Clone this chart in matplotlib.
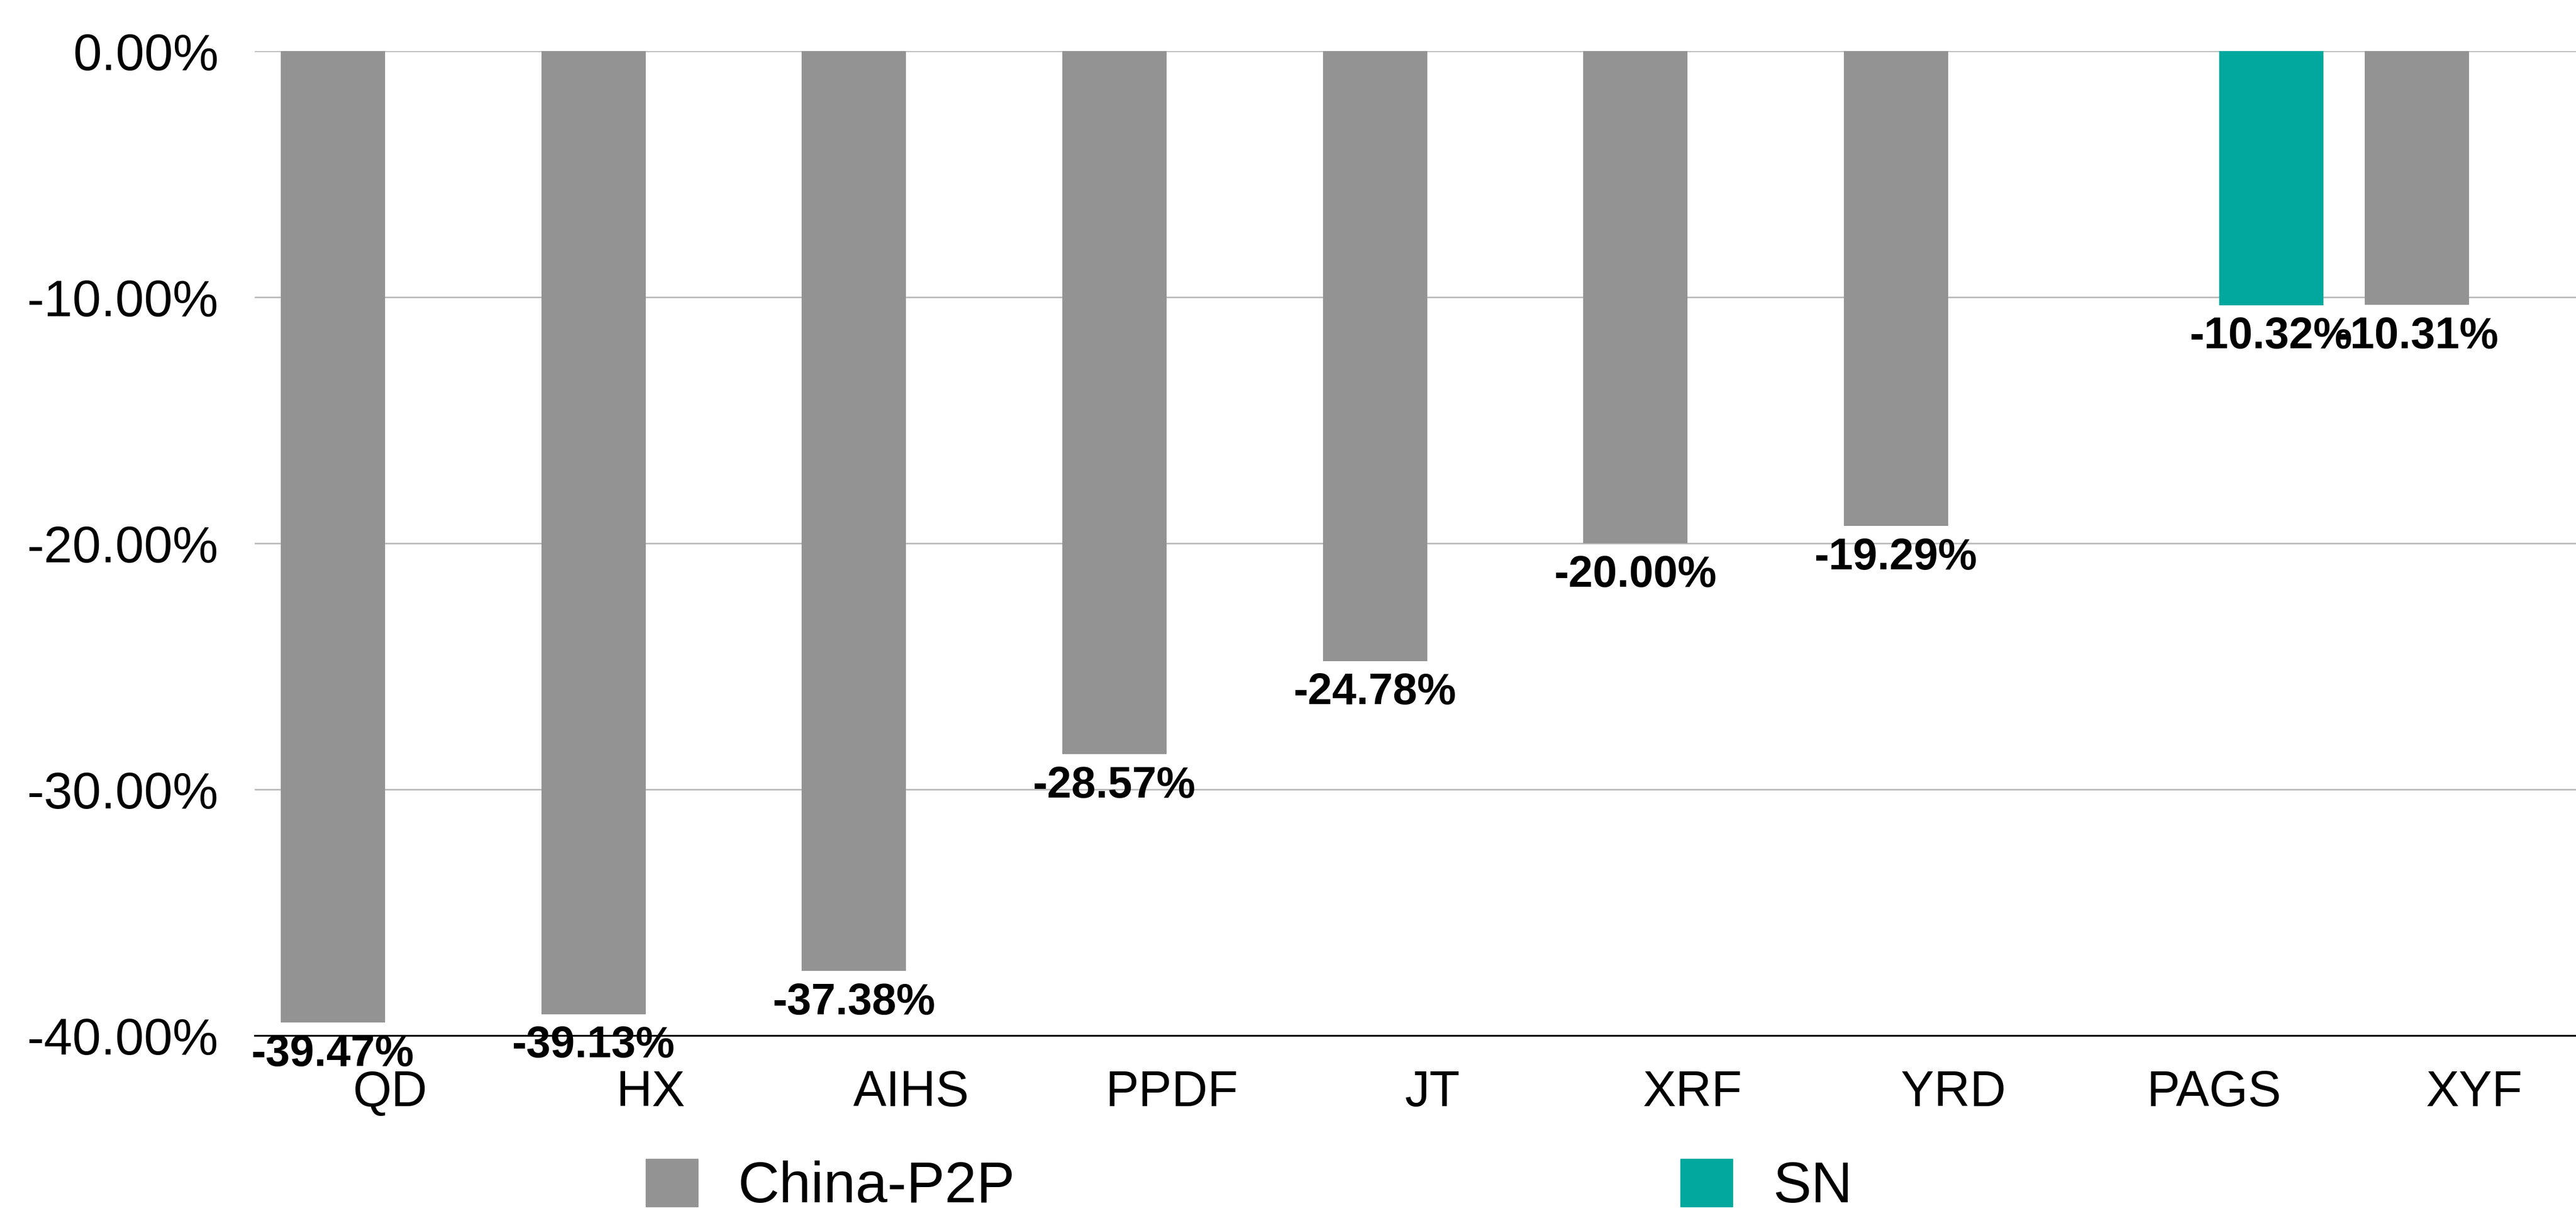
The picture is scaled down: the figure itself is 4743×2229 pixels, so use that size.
#!/usr/bin/env python3
# grouped bar chart, China-P2P vs SN drawdown

import numpy as np
from matplotlib import pyplot as plt
from matplotlib.patches import Patch

categories = ['QD', 'HX', 'AIHS', 'PPDF', 'JT', 'XRF', 'YRD', 'PAGS', 'XYF']
china_p2p = [-39.47, -39.13, -37.38, -28.57, -24.78, -20.00, -19.29, np.nan, -10.31]
sn = [np.nan, np.nan, np.nan, np.nan, np.nan, np.nan, np.nan, -10.32, np.nan]
yticks = [0, -10, -20, -30, -40]

GRAY = '#939393'
TEAL = '#02a89e'

plt.rcParams['font.family'] = ['Liberation Sans', 'DejaVu Sans']

fig = plt.figure(figsize=(47.43, 22.29), dpi=100)
ax = fig.add_axes([0.0989, 0.1449, 0.9011, 0.8129])

x = np.arange(len(categories))
w = 0.40
off = 0.22

b1 = ax.bar(x - off, china_p2p, w, color=GRAY, zorder=3)
b2 = ax.bar(x + off, sn, w, color=TEAL, zorder=3)

for bars, vals in [(b1, china_p2p), (b2, sn)]:
    for rect, v in zip(bars, vals):
        if np.isnan(v):
            continue
        ax.annotate(f'{v:.2f}%', (rect.get_x() + rect.get_width()/2, v),
                    xytext=(0, -15), textcoords='offset points',
                    ha='center', va='top', fontsize=58, fontweight='bold',
                    zorder=5, annotation_clip=False)

ax.set_ylim(-40, 0)
ax.set_xlim(-0.52, 8.39)
ax.set_yticks(yticks)
ax.set_yticklabels([f'{t:.2f}%' for t in yticks])
ax.set_xticks(x)
ax.set_xticklabels(categories)
ax.tick_params(axis='y', length=0, pad=48, labelsize=68)
ax.tick_params(axis='x', length=0, pad=45, labelsize=66)

for s in ['top', 'left', 'right', 'bottom']:
    ax.spines[s].set_visible(False)
ax.yaxis.grid(True, color='#bdbdbd', linewidth=2.2, zorder=0)
ax.set_axisbelow(True)
ax.axhline(-40, color='black', linewidth=2.4, zorder=4, clip_on=False)

handles = [Patch(color=GRAY, label='China-P2P'), Patch(color=TEAL, label='SN')]
fig.legend(handles=handles, loc='center left', bbox_to_anchor=(1189/4743, 0.0202),
           ncol=2, frameon=False, fontsize=76, borderpad=0, borderaxespad=0,
           handlelength=0.91, handleheight=0.91, handletextpad=0.7,
           columnspacing=11.6)

fig.savefig('out.png', dpi=100, facecolor='white')
plt.close()
